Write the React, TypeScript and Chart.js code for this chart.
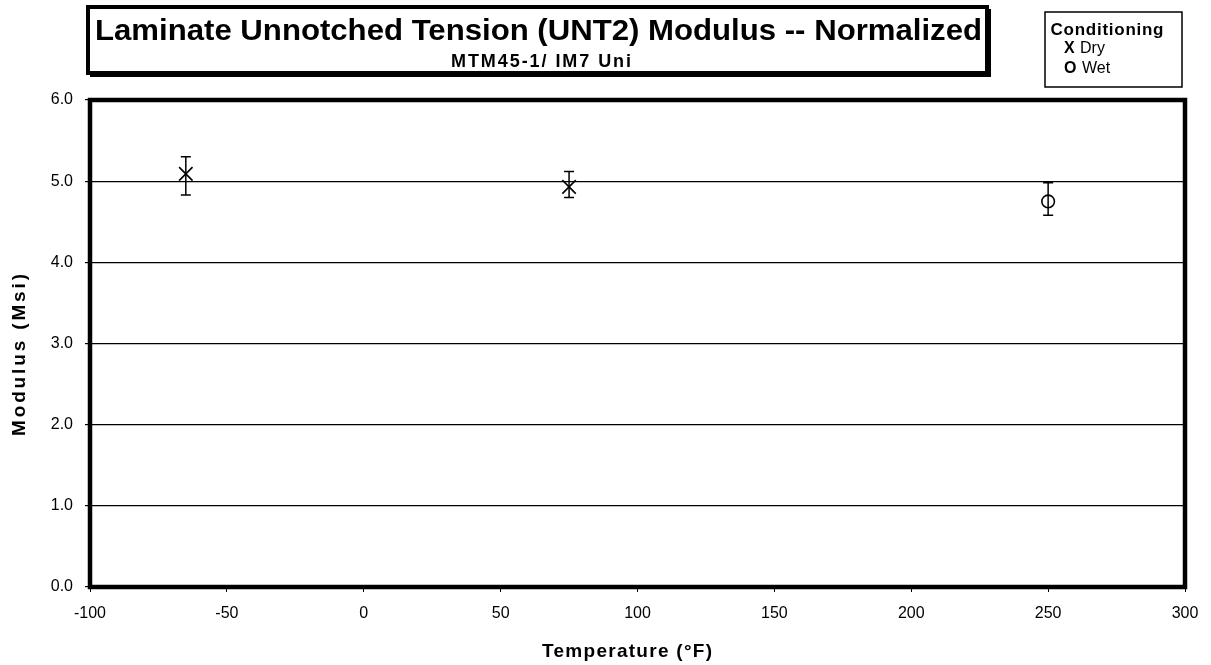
import React, { useEffect, useRef } from "react";
import { Chart, registerables } from "chart.js";

Chart.register(...registerables);

const chartTitle = "Laminate Unnotched Tension (UNT2) Modulus -- Normalized";
const chartSubtitle = "MTM45-1/ IM7 Uni";
const xAxisTitle = "Temperature (°F)";
const yAxisTitle = "Modulus (Msi)";
const legendTitle = "Conditioning";
const legendItems = [
  { sym: "X", label: "Dry" },
  { sym: "O", label: "Wet" },
];

const dryTemps = [-65, 75];
const dryMeans = [5.09, 4.93];
const dryHigh = [5.3, 5.12];
const dryLow = [4.83, 4.8];

const wetTemps = [250];
const wetMeans = [4.75];
const wetHigh = [4.98];
const wetLow = [4.58];

const xMin = -100;
const xMax = 300;
const xStep = 50;
const yMin = 0;
const yMax = 6;
const yStep = 1;

const FONT = "'Liberation Sans', Arial, Helvetica, sans-serif";

// draw text spread to a target width (letter spacing), left start computed from centre
function spreadText(ctx: any, text: string, cx: number, y: number, target: number) {
  ctx.save();
  (ctx as any).letterSpacing = "0px";
  const w0 = ctx.measureText(text).width;
  const sp = Math.max(0, (target - w0) / Math.max(1, text.length - 1));
  (ctx as any).letterSpacing = sp + "px";
  ctx.textAlign = "left";
  ctx.fillText(text, cx - target / 2, y);
  ctx.restore();
}

const errorBarPlugin = {
  id: "errorBars",
  afterDatasetsDraw(chart: any) {
    const ctx = chart.ctx;
    const xs = chart.scales.x;
    const ys = chart.scales.y;
    ctx.save();
    ctx.strokeStyle = "#000";
    ctx.lineWidth = 1.5;
    chart.data.datasets.forEach((ds: any) => {
      ds.data.forEach((p: any) => {
        const x = xs.getPixelForValue(p.x);
        const yt = ys.getPixelForValue(p.hi);
        const yb = ys.getPixelForValue(p.lo);
        const cap = 5;
        ctx.beginPath();
        ctx.moveTo(x, yt);
        ctx.lineTo(x, yb);
        ctx.moveTo(x - cap, yt);
        ctx.lineTo(x + cap, yt);
        ctx.moveTo(x - cap, yb);
        ctx.lineTo(x + cap, yb);
        ctx.stroke();
      });
    });
    ctx.restore();
  },
};

const decorPlugin = {
  id: "decor",
  afterDraw(chart: any) {
    const ctx = chart.ctx;
    const a = chart.chartArea;
    ctx.save();
    // plot frame
    ctx.strokeStyle = "#000";
    ctx.lineWidth = 4.5;
    ctx.strokeRect(a.left, a.top, a.right - a.left, a.bottom - a.top);

    // title box
    const bx = 88, by = 7, bw = 899, bh = 66;
    ctx.fillStyle = "#000";
    ctx.fillRect(bx + 2, by + 2, bw + 2, bh + 2);
    ctx.fillStyle = "#fff";
    ctx.fillRect(bx, by, bw, bh);
    ctx.lineWidth = 4;
    ctx.strokeStyle = "#000";
    ctx.strokeRect(bx, by, bw, bh);

    ctx.fillStyle = "#000";
    ctx.textBaseline = "alphabetic";
    ctx.textAlign = "center";
    ctx.font = `bold 29px ${FONT}`;
    const tw = ctx.measureText(chartTitle).width;
    const target = 887;
    ctx.save();
    ctx.translate(538.5, 39.5);
    ctx.scale(target / tw, 1);
    ctx.fillText(chartTitle, 0, 0);
    ctx.restore();
    ctx.font = `bold 18px ${FONT}`;
    spreadText(ctx, chartSubtitle, 541, 66.5, 180);

    // legend box
    const lx = 1045, ly = 12, lw = 137, lh = 75;
    ctx.lineWidth = 1.5;
    ctx.strokeRect(lx, ly, lw, lh);
    ctx.textBaseline = "middle";
    ctx.font = `bold 17px ${FONT}`;
    spreadText(ctx, legendTitle, 1050 + 57, 30, 113);
    legendItems.forEach((it, i) => {
      const yy = 49 + i * 20;
      ctx.textAlign = "left";
      ctx.font = `bold 16px ${FONT}`;
      ctx.fillText(it.sym, 1064, yy);
      ctx.font = `16px ${FONT}`;
      ctx.fillText(it.label, i === 0 ? 1080 : 1082, yy);
    });

    // axis titles
    ctx.textBaseline = "alphabetic";
    ctx.font = `bold 19px ${FONT}`;
    spreadText(ctx, xAxisTitle, 627, 657, 170);
    ctx.save();
    ctx.translate(25, 355);
    ctx.rotate(-Math.PI / 2);
    spreadText(ctx, yAxisTitle, 0, 0, 162);
    ctx.restore();
    ctx.restore();
  },
};

export default function App() {
  const ref = useRef<HTMLCanvasElement | null>(null);
  useEffect(() => {
    if (!ref.current) return;
    const chart = new Chart(ref.current, {
      type: "scatter",
      data: {
        datasets: [
          {
            label: "Dry",
            data: dryTemps.map((t, i) => ({ x: t, y: dryMeans[i], hi: dryHigh[i], lo: dryLow[i] })),
            pointStyle: "crossRot",
            pointRadius: 9.5,
            borderColor: "#000",
            backgroundColor: "rgba(0,0,0,0)",
            borderWidth: 1.6,
          },
          {
            label: "Wet",
            data: wetTemps.map((t, i) => ({ x: t, y: wetMeans[i], hi: wetHigh[i], lo: wetLow[i] })),
            pointStyle: "circle",
            pointRadius: 6.3,
            borderColor: "#000",
            backgroundColor: "rgba(0,0,0,0)",
            borderWidth: 1.6,
          },
        ] as any,
      },
      options: {
        animation: false,
        responsive: true,
        maintainAspectRatio: false,
        layout: { padding: { top: 100, right: 26, left: 0, bottom: 0 } },
        plugins: { legend: { display: false }, tooltip: { enabled: false }, title: { display: false } },
        scales: {
          x: {
            type: "linear",
            min: xMin,
            max: xMax,
            ticks: { stepSize: xStep, color: "#000", font: { family: FONT, size: 16 }, padding: 12, maxRotation: 0 },
            grid: { drawOnChartArea: false, drawTicks: true, tickLength: 5, color: "#000" },
            border: { display: false },
            title: { display: false },
            afterFit(scale: any) {
              scale.height = 78;
            },
          },
          y: {
            type: "linear",
            min: yMin,
            max: yMax,
            ticks: { stepSize: yStep, color: "#000", font: { family: FONT, size: 16 }, padding: 12, callback: (v: any) => Number(v).toFixed(1) },
            grid: { color: "#000", lineWidth: 1.2, tickLength: 5 },
            border: { display: false },
            title: { display: false },
            afterFit(scale: any) {
              scale.width = 90;
            },
          },
        },
      } as any,
      plugins: [errorBarPlugin, decorPlugin],
    });
    return () => chart.destroy();
  }, []);
  return (
    <div style={{ position: "fixed", left: 0, top: 0, width: 1211, height: 665, background: "#fff" }}>
      <canvas ref={ref} />
    </div>
  );
}
